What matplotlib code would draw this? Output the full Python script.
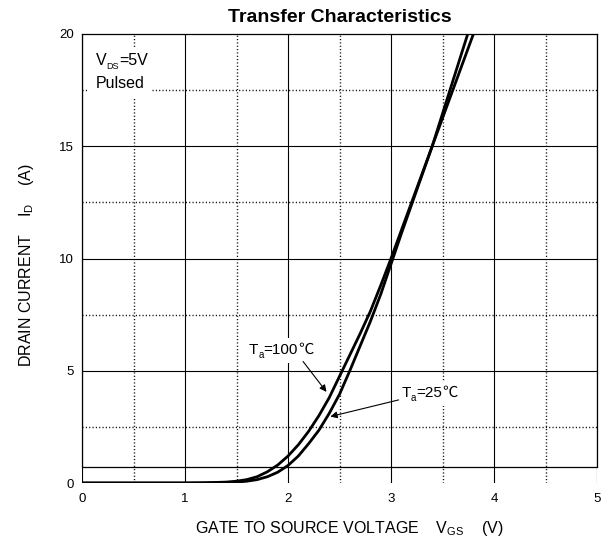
import matplotlib
matplotlib.use('Agg')
import matplotlib.pyplot as plt
from matplotlib.patches import Rectangle
from matplotlib.transforms import Bbox, IdentityTransform

plt.rcParams['font.family'] = ['Liberation Sans', 'Noto Sans CJK SC', 'DejaVu Sans']
plt.rcParams['mathtext.fontset'] = 'custom'
plt.rcParams['mathtext.rm'] = 'Liberation Sans'

# curves (VGS in V, ID in A)
vgs_100 = [0.0, 1.0, 1.2, 1.4, 1.5, 1.6, 1.7, 1.8, 1.9, 2.0, 2.1, 2.2, 2.3, 2.4,
           2.5, 2.6, 2.7, 2.8, 2.9, 3.0, 3.1, 3.2, 3.3, 3.4, 3.5, 3.6, 3.7, 3.8]
id_100 = [0.0, 0.0, 0.01, 0.04, 0.08, 0.15, 0.28, 0.5, 0.8, 1.2, 1.7, 2.3, 3.0, 3.8,
          4.75, 5.7, 6.65, 7.65, 8.8, 10.0, 11.25, 12.5, 13.75, 15.0, 16.25, 17.5, 18.75, 20.0]

vgs_25 = [0.0, 1.0, 1.2, 1.4, 1.5, 1.6, 1.7, 1.8, 1.9, 2.0, 2.1, 2.2, 2.3, 2.4,
          2.5, 2.6, 2.7, 2.8, 2.9, 3.0, 3.1, 3.2, 3.3, 3.4, 3.5, 3.6, 3.7, 3.745]
id_25 = [0.0, 0.0, 0.005, 0.02, 0.04, 0.08, 0.15, 0.28, 0.48, 0.78, 1.2, 1.75, 2.35, 3.1,
         3.95, 5.0, 6.1, 7.2, 8.4, 9.75, 11.1, 12.4, 13.7, 15.0, 16.45, 17.9, 19.35, 20.0]

x_major = [0, 1, 2, 3, 4, 5]
x_minor = [0.5, 1.5, 2.5, 3.5, 4.5]
y_major = [0, 5, 10, 15, 20]
y_minor = [2.5, 7.5, 12.5, 17.5]
frame_bottom = 0.7  # the box is closed a bit above ID=0

FAM = ['Liberation Sans', 'Noto Sans CJK SC', 'DejaVu Sans']
CJK = ['Noto Sans CJK SC', 'DejaVu Sans']
DOT = (0, (0.8, 1.6))


def chain_text(ax, x, y, parts, coords='data', pad=3):
    # pieces of text with their own size, vertical shift and font, on a white patch
    fig = ax.figure
    r = fig.canvas.get_renderer()
    dx = 0.0
    boxes = []
    for s, size, dy, fam in parts:
        t = ax.annotate(s, xy=(x, y), xycoords=coords, xytext=(dx, dy),
                        textcoords='offset points', fontsize=size, family=fam,
                        va='baseline', ha='left', zorder=5)
        bb = t.get_window_extent(r)
        boxes.append(bb)
        dx += bb.width * 72 / fig.dpi
    bb = Bbox.union(boxes)
    ax.add_artist(Rectangle((bb.x0 - pad, bb.y0 - pad), bb.width + 2 * pad, bb.height + 2 * pad,
                            transform=IdentityTransform(), fc='white', ec='none', zorder=2.5))


fig = plt.figure(figsize=(6.02, 5.42), dpi=100)
ax = fig.add_axes([82 / 602, 59 / 542, 515 / 602, 449 / 542])

ax.set_xlim(0, 5)
ax.set_ylim(0, 20)
ax.set_xticks(x_major)
ax.set_xticks(x_minor, minor=True)
ax.set_yticks(y_major)
ax.set_yticks(y_minor, minor=True)
ax.tick_params(which='both', length=0, labelsize=9.5)
ax.tick_params(axis='y', pad=6)
ax.tick_params(axis='x', pad=7)

ax.grid(axis='x', which='major', color='black', lw=0.8, ls='-')
ax.grid(axis='x', which='minor', color='black', lw=1.0, ls=DOT)
ax.grid(axis='y', which='minor', color='black', lw=1.0, ls=DOT)
for yv in y_major[1:-1]:
    ax.axhline(yv, color='black', lw=0.8, zorder=0.5)
ax.axhline(frame_bottom, color='black', lw=0.9)

ax.spines['bottom'].set_visible(False)
for side in ['left', 'right', 'top']:
    ax.spines[side].set_linewidth(0.9)
ax.spines['left'].set_bounds(frame_bottom, 20)
ax.spines['right'].set_bounds(frame_bottom, 20)
ax.set_axisbelow(True)

ax.plot(vgs_100, id_100, color='black', lw=2.0, zorder=3)
ax.plot(vgs_25, id_25, color='black', lw=2.0, zorder=3)

ax.set_title('Transfer Characteristics', fontsize=14, fontweight='bold', pad=9)

fig.text(349 / 602, 1 - 528 / 542, r'GATE TO SOURCE VOLTAGE    $\mathregular{V_{GS}}$    (V)',
         fontsize=11.5, ha='center', va='center')
fig.text(27 / 602, 1 - 265 / 542, r'DRAIN CURRENT    $\mathregular{I_{D}}$    (A)',
         fontsize=11.5, ha='center', va='center', rotation=90)

chain_text(ax, 0.027, 0.931, [('V', 11.5, 0, FAM), ('DS', 6.5, -3, FAM), ('=5V', 11.5, 0, FAM)],
           coords='axes fraction', pad=6)
ax.text(0.027, 0.880, 'Pulsed', transform=ax.transAxes, fontsize=11.5, va='baseline', ha='left',
        zorder=5, bbox=dict(fc='white', ec='none', pad=5))

chain_text(ax, 1.62, 5.75, [('T', 11, 0, FAM), ('a', 7, -3, FAM), ('=100', 11, 0, FAM), ('℃', 11, 0, CJK)])
chain_text(ax, 3.10, 3.85, [('T', 11, 0, FAM), ('a', 7, -3, FAM), ('=25', 11, 0, FAM), ('℃', 11, 0, CJK)])

ax.annotate('', xy=(2.39, 3.96), xytext=(2.13, 5.51),
            arrowprops=dict(arrowstyle='-|>', color='black', lw=0.8, mutation_scale=10))
ax.annotate('', xy=(2.385, 2.93), xytext=(3.10, 3.73),
            arrowprops=dict(arrowstyle='-|>', color='black', lw=0.8, mutation_scale=10))

fig.savefig('out.png', dpi=100)
plt.close(fig)
